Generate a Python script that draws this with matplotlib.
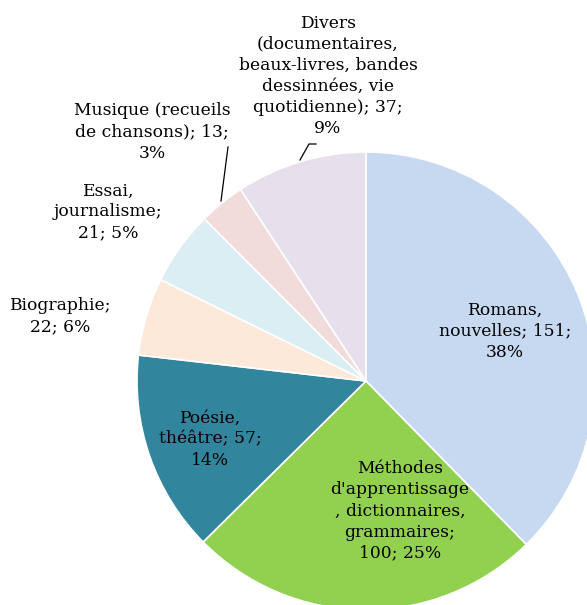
import matplotlib
matplotlib.use("Agg")
import matplotlib.pyplot as plt

# Titres par genre
categories = [
    "Romans, nouvelles",
    "Méthodes d'apprentissage, dictionnaires, grammaires",
    "Poésie, théâtre",
    "Biographie",
    "Essai, journalisme",
    "Musique (recueils de chansons)",
    "Divers (documentaires, beaux-livres, bandes dessinnées, vie quotidienne)",
]
values = [151, 100, 57, 22, 21, 13, 37]
percents = [38, 25, 14, 6, 5, 3, 9]
colors = ["#C6D9F1", "#92D050", "#31859C", "#FDE9D9", "#DAEEF3", "#F2DCDB", "#E5E0EC"]

label_texts = [
    "Romans,\nnouvelles; 151;\n38%",
    "Méthodes\nd'apprentissage\n, dictionnaires,\ngrammaires;\n100; 25%",
    "Poésie,\nthéâtre; 57;\n14%",
    "Biographie;\n22; 6%",
    "Essai,\njournalisme;\n21; 5%",
    "Musique (recueils\nde chansons); 13;\n3%",
    "Divers\n(documentaires,\nbeaux-livres, bandes\ndessinnées, vie\nquotidienne); 37;\n9%",
]

W, H = 587, 605
fig = plt.figure(figsize=(W / 100, H / 100), dpi=100)
ax = fig.add_axes([0, 0, 1, 1])

cx, cy, r = 366, H - 381, 229
ax.pie(values, colors=colors, startangle=90, counterclock=False,
       center=(cx, cy), radius=r, frame=True,
       wedgeprops=dict(edgecolor="white", linewidth=1.2))
ax.set_xlim(0, W)
ax.set_ylim(0, H)
ax.set_aspect("equal")
ax.axis("off")

# label centres in figure pixels (x, y from top)
label_pos = [
    (505, 331),
    (400, 511),
    (210, 439),
    (60, 316),
    (108, 212),
    (152, 132),
    (328, 76),
]
font = dict(family="DejaVu Serif", size=12.3, color="black")
for txt, (px, py) in zip(label_texts, label_pos):
    ax.text(px, H - py, txt, ha="center", va="center",
            linespacing=1.32, **font)

# leader lines for the small outer slices
ax.plot([221, 228], [H - 201, H - 147], color="black", lw=0.9)
ax.plot([300, 309, 316], [H - 160, H - 144, H - 144], color="black", lw=0.9)

fig.savefig("out.png", dpi=100)
